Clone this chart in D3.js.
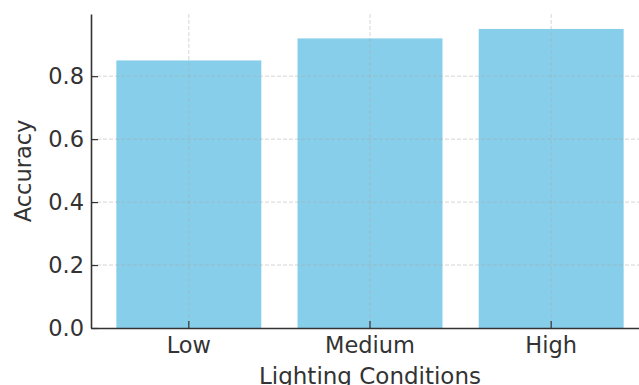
<!DOCTYPE html>
<html><head><meta charset="utf-8">
<script src="https://cdn.jsdelivr.net/npm/d3@7"></script>
<style>body{margin:0;background:#fff;}svg{display:block;}</style>
</head><body>
<svg id="c" width="639" height="385"></svg>
<script>
const categories = ["Low", "Medium", "High"];
const accuracy = [0.85, 0.92, 0.95];
const yTicks = [0.0, 0.2, 0.4, 0.6, 0.8];
const xLabel = "Lighting Conditions";
const yLabel = "Accuracy";

const svg = d3.select("#c");
const L = 91, R = 649, T = 14, B = 328;
const font = "DejaVu Sans, sans-serif";
const textColor = "#333";
const fs = 22.5;

const x = d3.scaleBand().domain(categories).range([L, R]).paddingInner(0.2).paddingOuter(0.14);
const y = d3.scaleLinear().domain([0, 0.9975]).range([B, T]);

// bars
svg.append("g").selectAll("rect").data(categories).join("rect")
  .attr("x", d => x(d)).attr("width", x.bandwidth())
  .attr("y", (d, i) => y(accuracy[i])).attr("height", (d, i) => B - y(accuracy[i]))
  .attr("fill", "#87CEEB");

// grid on top
const grid = svg.append("g").attr("stroke", "#a8a8a8").attr("stroke-opacity", 0.55)
  .attr("stroke-dasharray", "4,2").attr("stroke-width", 0.9);
grid.selectAll(".h").data(yTicks.slice(1)).join("line")
  .attr("x1", L).attr("x2", 639).attr("y1", d => y(d)).attr("y2", d => y(d));
grid.selectAll(".v").data(categories).join("line")
  .attr("y1", T).attr("y2", B).attr("x1", d => x(d) + x.bandwidth() / 2).attr("x2", d => x(d) + x.bandwidth() / 2);

// y axis
const yAxis = d3.axisLeft(y).tickValues(yTicks).tickFormat(d3.format(".1f")).tickSizeInner(-7).tickSizeOuter(0).tickPadding(7);
const gy = svg.append("g").attr("transform", `translate(${L},0)`).call(yAxis);
gy.select(".domain").attr("stroke", textColor).attr("stroke-width", 1.6);
gy.selectAll(".tick line").attr("stroke", textColor).attr("stroke-width", 1.2);
gy.selectAll(".tick text").attr("font-family", font).attr("font-size", fs).attr("fill", textColor);

// x axis
const xAxis = d3.axisBottom(x).tickSizeInner(-7).tickSizeOuter(0).tickPadding(9);
const gx = svg.append("g").attr("transform", `translate(0,${B})`).call(xAxis);
gx.select(".domain").attr("stroke", textColor).attr("stroke-width", 1.6);
gx.selectAll(".tick line").attr("stroke", textColor).attr("stroke-width", 1.2);
gx.selectAll(".tick text").attr("font-family", font).attr("font-size", fs).attr("fill", textColor);

// labels
svg.append("text").attr("x", (L + R) / 2).attr("y", 383.5).attr("text-anchor", "middle")
  .attr("font-family", font).attr("font-size", 23).attr("fill", textColor).text(xLabel);
svg.append("text").attr("transform", `translate(31,${(T + B) / 2}) rotate(-90)`).attr("text-anchor", "middle")
  .attr("font-family", font).attr("font-size", fs).attr("fill", textColor).text(yLabel);
</script>
</body></html>
